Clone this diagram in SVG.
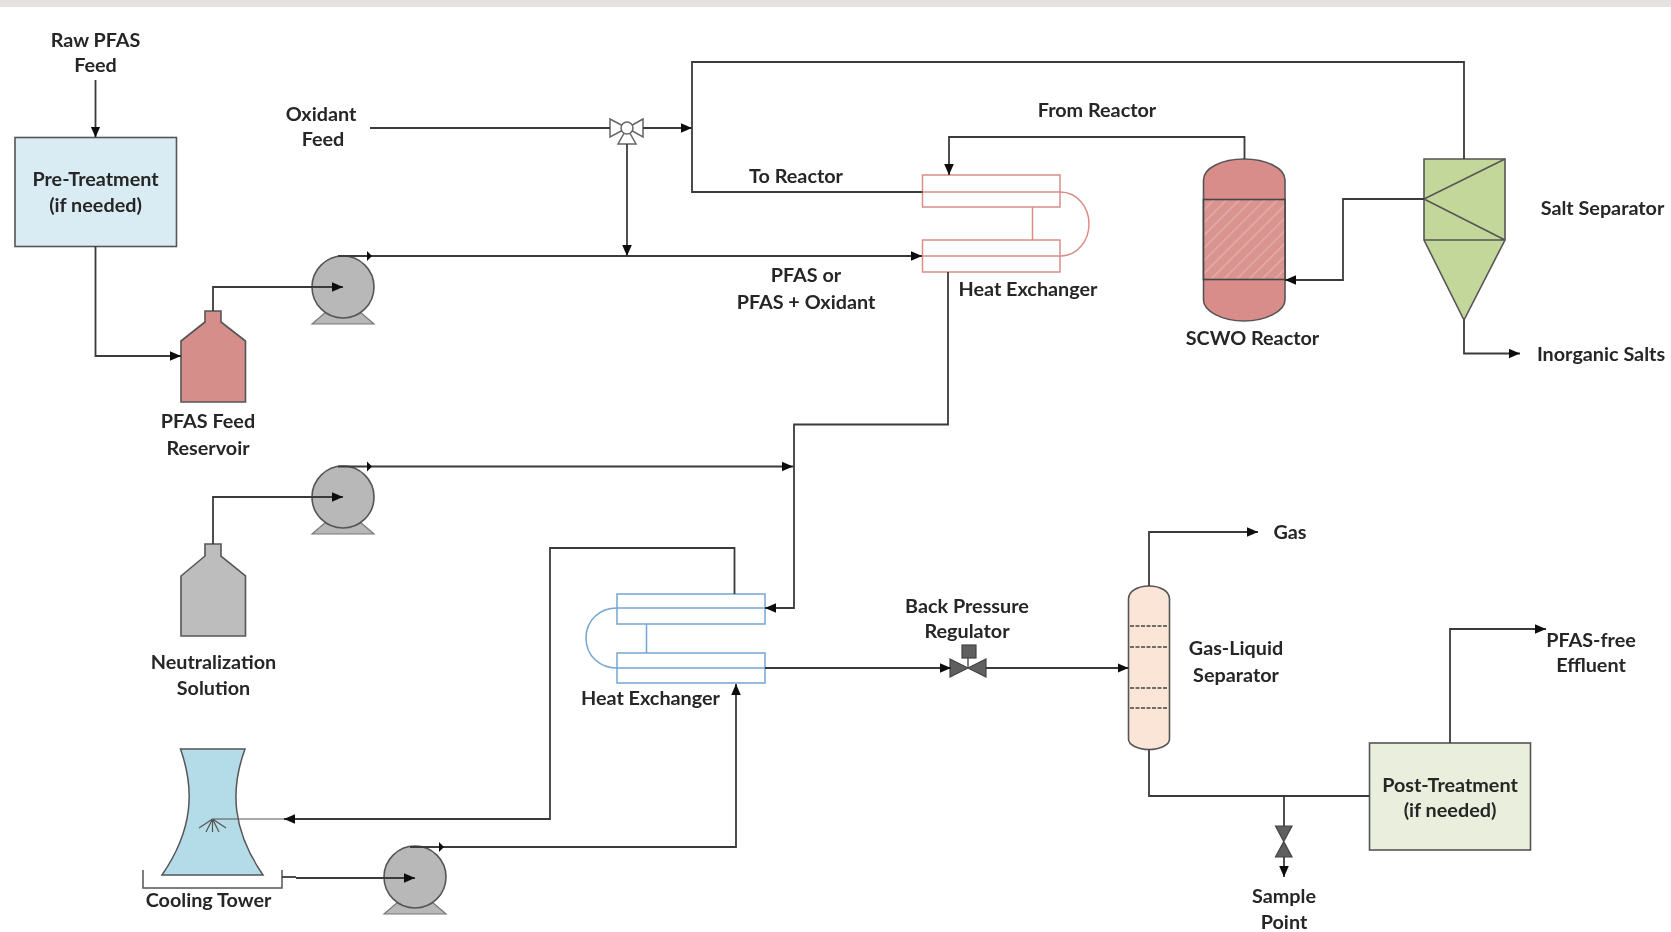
<svg xmlns="http://www.w3.org/2000/svg" width="1671" height="932" viewBox="0 0 1671 932">
<style>
text{font-family:"Lato","Carlito","Liberation Sans",sans-serif;font-weight:700;font-size:19.800px;fill:#262626;text-anchor:middle}
.c{fill:none;stroke:#3a3a3a;stroke-width:1.8}
.a{marker-end:url(#arr)}
.t{marker-end:url(#tick)}
.n{stroke:#555;stroke-width:1.6}
.hr{fill:none;stroke:#d98e88;stroke-width:1.5}
.hb{fill:none;stroke:#74a5d2;stroke-width:1.5}
.d{stroke:#444;stroke-width:1.5;stroke-dasharray:4 1.5}
.dk{fill:#5f5f5f;stroke:#444;stroke-width:1.2}
svg>g{filter:url(#soft)}
</style>
<defs>
<filter id="soft" x="-5%" y="-5%" width="110%" height="110%" filterUnits="objectBoundingBox"><feGaussianBlur stdDeviation="0.45"/></filter>
<marker id="arr" markerUnits="userSpaceOnUse" markerWidth="12" markerHeight="12" refX="11" refY="6" orient="auto"><path d="M0 1.2L11 6L0 10.800z" fill="#111"/></marker>
<marker id="tick" markerUnits="userSpaceOnUse" markerWidth="7" markerHeight="12" refX="5" refY="6" orient="auto"><path d="M0 1L5 6L0 11z" fill="#111"/></marker>
<pattern id="hatch" patternUnits="userSpaceOnUse" width="9" height="9" patternTransform="rotate(45)"><rect width="9" height="9" fill="#d99490"/><rect width="1.3" height="9" fill="#e6aeaa"/></pattern>
<g id="pump"><path d="M-31 37L-16 24H16L31 37z" fill="#b8b8b8" stroke="#777" stroke-width="1.2"/><circle r="31" fill="#b8b8b8" stroke="#555" stroke-width="1.6"/></g>
</defs>
<rect width="1671" height="932" fill="#fff"/>
<rect id="topband" width="1671" height="7" fill="#e6e1e1"/>

<g id="pre-treatment"><rect class="n" x="15" y="137.500" width="161.500" height="109" fill="#d9ebf3"/><text x="95.500" y="186">Pre-Treatment</text><text x="95.500" y="212">(if needed)</text></g>
<g id="raw-feed"><text x="95.500" y="47">Raw PFAS</text><text x="95.500" y="72">Feed</text></g>
<g id="oxidant-feed"><text x="321" y="120.500">Oxidant</text><text x="323" y="146">Feed</text></g>
<g id="pfas-reservoir"><path class="n" d="M205 311H221V322L245.500 341V402H181V341L205 322z" fill="#d58e8a"/><text x="208" y="428">PFAS Feed</text><text x="208" y="455">Reservoir</text></g>
<g id="pump-1"><use href="#pump" x="343" y="287"/></g>
<g id="oxidant-valve"><g fill="#fff" stroke="#666" stroke-width="1.5"><path d="M610 119L627 128L610 137z"/><path d="M643 119L627 128L643 137z"/><path d="M627 128L636 144H618z"/><circle cx="627" cy="128" r="6"/></g></g>
<g id="hx-upper"><rect class="hr" x="922.500" y="175" width="137.500" height="32"/><rect class="hr" x="922.500" y="240" width="137.500" height="32"/><path class="hr" d="M922.500 192H1060C1078 192 1089 208 1089 224C1089 240 1078 256 1060 256H922.500M1032.500 207V240"/><text x="1028" y="295.500">Heat Exchanger</text></g>
<g id="scwo-reactor"><path class="n" d="M1203.500 180C1203.500 168 1222 159 1244 159C1266 159 1285 168 1285 180V300C1285 311 1266 321 1244 321C1222 321 1203.500 311 1203.500 300z" fill="#d88d8a"/><rect x="1203.500" y="199.500" width="81.500" height="80" fill="url(#hatch)" stroke="#444" stroke-width="1.6"/><text x="1252.500" y="345">SCWO Reactor</text></g>
<g id="salt-separator"><path class="n" d="M1424 159H1505V240L1464 320L1424 240z" fill="#c4d79b"/><path class="n" fill="none" d="M1505 159L1424 199L1505 240M1424 240H1505"/><text x="1602.500" y="215">Salt Separator</text></g>
<g id="inorganic-salts"><text x="1601" y="361">Inorganic Salts</text></g>
<g id="labels-flow"><text x="796" y="183">To Reactor</text><text x="1097" y="116.500">From Reactor</text><text x="806" y="281.500">PFAS or</text><text x="806" y="308.500">PFAS + Oxidant</text></g>
<g id="neutralization"><path class="n" d="M205 544H221V556L245.500 576V636H181V576L205 556z" fill="#bdbdbd"/><text x="213.500" y="668.500">Neutralization</text><text x="213.500" y="695">Solution</text></g>
<g id="pump-2"><use href="#pump" x="343" y="497"/></g>
<g id="hx-lower"><rect class="hb" x="617" y="594" width="148" height="30"/><rect class="hb" x="617" y="653" width="148" height="30"/><path class="hb" d="M765 608H617C600 608 586 620 586 638C586 656 600 668 617 668H765M646.500 624V653"/><text x="650.500" y="704.500">Heat Exchanger</text></g>
<g id="cooling-tower"><path d="M180.500 749H245C230 790 232 830 263 875H162C193 830 195 790 180.500 749z" fill="#b4dbe8" stroke="#555" stroke-width="1.5"/><path fill="none" stroke="#555" stroke-width="1.5" d="M143 870V888H282V870"/><text x="208.500" y="907">Cooling Tower</text></g>
<g id="pump-3"><use href="#pump" x="415" y="877"/></g>
<g id="back-pressure-regulator"><path class="dk" d="M950 659L986 677V659L950 677z"/><path stroke="#555" stroke-width="1.5" d="M968 658V668"/><rect class="dk" x="962" y="645" width="14" height="13"/><text x="967" y="612.500">Back Pressure</text><text x="967" y="637.500">Regulator</text></g>
<g id="gas-liquid-separator"><path class="n" d="M1128.500 599C1128.500 591 1138 586 1149 586C1160 586 1169.500 591 1169.500 599V739C1169.500 745 1160 749.500 1149 749.500C1138 749.500 1128.500 745 1128.500 739z" fill="#fbe5d6"/><path class="d" d="M1130 626H1168M1130 647H1168M1130 688H1168M1130 708H1168"/><text x="1236" y="654.500">Gas-Liquid</text><text x="1236" y="681.500">Separator</text></g>
<g id="gas"><text x="1290" y="539">Gas</text></g>
<g id="post-treatment"><rect class="n" x="1369.500" y="743" width="161" height="107" fill="#e9eedd"/><text x="1450" y="791.500">Post-Treatment</text><text x="1450" y="817">(if needed)</text></g>
<g id="effluent"><text x="1591" y="647">PFAS-free</text><text x="1591" y="672">Effluent</text></g>
<g id="sample-valve"><path class="dk" d="M1275.500 826H1292L1275.500 857H1292z"/><text x="1284" y="903">Sample</text><text x="1284" y="928.500">Point</text></g>

<g id="connectors">
<path class="c a" d="M95.500 80V137.500"/>
<path class="c a" d="M95.500 246.500V356H181"/>
<path class="c a" d="M213 311V287H343"/>
<path class="c t" d="M338 256H372"/>
<path class="c a" d="M372 256H922"/>
<path class="c" d="M370 128H610"/>
<path class="c a" d="M643 128H692"/>
<path class="c a" d="M627 144V256"/>
<path class="c" d="M1464 159V62H692V192H922.500"/>
<path class="c a" d="M1244.500 159V137H949V175"/>
<path class="c a" d="M1424 199H1343V280H1285"/>
<path class="c a" d="M1464 320V353.500H1520"/>
<path class="c a" d="M948 272V424.500H794V608H765"/>
<path class="c a" d="M213 544V497H343"/>
<path class="c t" d="M338 466.500H372"/>
<path class="c a" d="M372 466.500H793"/>
<path class="c a" d="M734.500 594V548H550V819H284"/>
<path fill="none" stroke="#555" stroke-width="1.2" d="M284 819H212.500M212.500 819L199 828M212.500 819L206 832M212.500 819V832M212.500 819L219 832M212.500 819L226 828"/>
<path class="c" d="M282 877H296"/>
<path class="c a" d="M296 878H415"/>
<path class="c t" d="M410 847H444"/>
<path class="c a" d="M444 847H736V684"/>
<path class="c a" d="M765 668H951"/>
<path class="c a" d="M986 668H1128.500"/>
<path class="c a" d="M1149 586V532H1258"/>
<path class="c" d="M1149 749.500V796H1369.500"/>
<path class="c" d="M1284 796V826"/>
<path class="c a" d="M1284 857V877"/>
<path class="c a" d="M1450 743V629H1546"/>
</g>
</svg>
